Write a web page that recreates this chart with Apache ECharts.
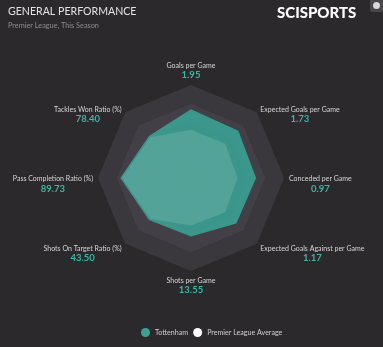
<!DOCTYPE html>
<html><head><meta charset="utf-8">
<script src="https://cdn.jsdelivr.net/npm/echarts@6/dist/echarts.min.js"></script>
<style>html,body{margin:0;padding:0;background:#2b292c;}#c{width:383px;height:347px;}</style>
</head><body><div id="c"></div>
<script>
// Indicators, counter-clockwise from the top
var categories = ['Goals per Game','Tackles Won Ratio (%)','Pass Completion Ratio (%)','Shots On Target Ratio (%)','Shots per Game','Expected Goals Against per Game','Conceded per Game','Expected Goals per Game'];
var tottenhamValues = ['1.95','78.40','89.73','43.50','13.55','1.17','0.97','1.73'];
// Scaled scores (0-100) read from the polygon radii
var tottenhamScore = [74, 64, 76, 64, 63, 69, 70, 72];
var averageScore   = [52, 62, 74, 62, 51, 52, 50, 52];
var seriesNames = ['Tottenham', 'Premier League Average'];

var FONT = 'Lato, "Open Sans", sans-serif';
var chart = echarts.init(document.getElementById('c'), null, {renderer:'canvas'});
chart.setOption({
  backgroundColor: '#2b292c',
  animation: false,
  title: {
    text: 'GENERAL PERFORMANCE',
    subtext: 'Premier League, This Season',
    left: 3, top: 1, itemGap: 5,
    textStyle: {color:'#e4e4e4', fontSize: 10.6, fontWeight: 'normal', fontFamily: FONT},
    subtextStyle: {color:'#8e8c90', fontSize: 7.3, fontFamily: FONT}
  },
  graphic: [
    {type:'text', left: 277, top: 6, style:{text:'SCISPORTS', fill:'#ffffff', font:'900 15px ' + FONT}},
    {type:'rect', right: 0, top: 0, shape:{width:13, height:12, r:[0,0,0,3]}, style:{fill:'#48454b'}},
    {type:'circle', right: 3, top: 2, shape:{r:3.5}, style:{fill:'#d8d8d8'}}
  ],
  legend: {
    data: seriesNames,
    left: 141, top: 328, padding: 0,
    icon: 'circle', itemWidth: 9, itemHeight: 9, itemGap: 5,
    textStyle: {color:'#cfcfcf', fontSize: 7.1, fontFamily: FONT}
  },
  radar: {
    center: [191, 178],
    radius: 93,
    shape: 'polygon',
    splitNumber: 5,
    startAngle: 90,
    nameGap: 5,
    indicator: categories.map(function(c){ return {name: c, max: 100, min: 0}; }),
    axisName: {
      formatter: function(name){
        var i = categories.indexOf(name);
        var txt = '{n|' + name + '}\n{v|' + tottenhamValues[i] + '}';
        // side labels sit a little below their vertex
        if (i !== 0 && i !== 4) txt = '{s| }\n' + txt;
        return txt;
      },
      rich: {
        s: {fontSize: 6, lineHeight: 12},
        n: {color:'#d6d6d6', fontSize: 7, fontFamily: FONT, align:'center', lineHeight: 9},
        v: {color:'#3db5a5', fontSize: 9.5, fontWeight: 'bold', fontFamily: FONT, align:'center', lineHeight: 10}
      }
    },
    splitArea: {show: true, areaStyle: {color: ['#3b383d', '#433f46']}},
    splitLine: {show: false},
    axisLine: {show: false}
  },
  series: [{
    type: 'radar',
    symbol: 'none',
    data: [
      {name: seriesNames[0], value: tottenhamScore,
       itemStyle:{color:'#3aa395'}, lineStyle:{width:0, color:'#3aa395'},
       areaStyle:{color:'#3aa395', opacity: 0.88}},
      {name: seriesNames[1], value: averageScore,
       itemStyle:{color:'#ffffff'}, lineStyle:{width:0, color:'#ffffff'},
       areaStyle:{color:'#ffffff', opacity: 0.13}}
    ]
  }]
});
</script></body></html>
